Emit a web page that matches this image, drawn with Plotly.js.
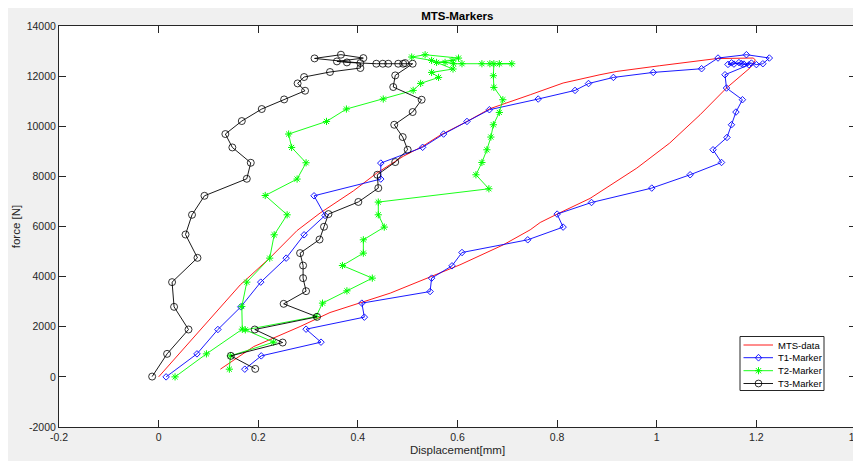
<!DOCTYPE html>
<html>
<head>
<meta charset="utf-8">
<script src="https://cdn.plot.ly/plotly-3.0.1.min.js"></script>
<style>
  html, body { margin: 0; padding: 0; background: #ffffff; overflow: hidden; width: 853px; height: 461px; }
  #chart { position: absolute; left: 8px; top: 8px; width: 862px; height: 453px; }
</style>
</head>
<body>
<div id="chart"></div>
<script>
// ---- Data ----
// MTS-data: loading branch then unloading branch
const mtsX = [0, 0.164, 0.224, 0.278, 0.324, 0.364, 0.391, 0.438, 0.491, 0.530, 0.565, 0.620, 0.665, 0.746, 0.812, 0.886, 0.920, 1.006, 1.120, 1.194,
              1.198, 1.187, 1.140, 1.087, 1.026, 0.960, 0.900, 0.866, 0.800, 0.766, 0.746, 0.692, 0.605, 0.548, 0.465, 0.344, 0.284, 0.191, 0.124];
const mtsF = [0, 3673, 4760, 5840, 6535, 7066, 7420, 8131, 8800, 9200, 9640, 10200, 10700, 11257, 11725, 12056, 12188, 12415, 12700, 12722,
              12640, 12323, 11525, 10459, 9329, 8331, 7560, 7120, 6495, 6160, 5868, 5269, 4471, 4004, 3341, 2567, 2008, 1210, 307];

const t1X = [0.015, 0.077, 0.119, 0.165, 0.205, 0.256, 0.292, 0.334, 0.312, 0.446, 0.446, 0.530, 0.572, 0.619, 0.664, 0.762, 0.836, 0.863, 0.913, 0.993,
             1.090, 1.123, 1.180, 1.226, 1.213, 1.200, 1.190, 1.175, 1.165, 1.155, 1.143, 1.150, 1.170, 1.185,
             1.137, 1.140, 1.172, 1.159, 1.150, 1.141, 1.113, 1.130, 1.067, 0.990, 0.869, 0.800, 0.812, 0.741, 0.609, 0.589, 0.548, 0.545,
             0.408, 0.413, 0.296, 0.326, 0.206, 0.173];
const t1F = [0, 918, 1890, 2794, 3780, 4738, 5669, 6440, 7225, 7893, 8530, 9160, 9689, 10192, 10659, 11086, 11430, 11705, 11948, 12148,
             12295, 12722, 12855, 12722, 12495, 12460, 12520, 12480, 12540, 12480, 12467, 12530, 12500, 12450,
             12056, 11525, 11058, 10567, 10060, 9553, 9062, 8555, 8064, 7533, 6958, 6495, 5976, 5469, 4962, 4431, 3940, 3405,
             2942, 2383, 1903, 1385, 838, 307];

const t2X = [0.033, 0.096, 0.168, 0.167, 0.177, 0.223, 0.232, 0.258, 0.214, 0.278, 0.296, 0.267, 0.261, 0.337, 0.377, 0.451, 0.511, 0.526,
             0.562, 0.548, 0.591, 0.548, 0.508, 0.535, 0.602, 0.589, 0.558, 0.575, 0.592, 0.609, 0.649, 0.665, 0.709, 0.684, 0.673,
             0.672, 0.673, 0.691, 0.684, 0.672, 0.667, 0.659, 0.649, 0.637, 0.663,
             0.441, 0.441, 0.453, 0.411, 0.411, 0.369, 0.429, 0.378, 0.329, 0.316, 0.174, 0.231, 0.144, 0.142];
const t2F = [0, 918, 1903, 2806, 3780, 4738, 5669, 6467, 7237, 7893, 8543, 9154, 9689, 10192, 10687, 11086, 11430, 11709,
             11948, 12148, 12284, 12627, 12762, 12854, 12720, 12627, 12547, 12547, 12495, 12495, 12495, 12495, 12495, 12495, 12495,
             12016, 11549, 11058, 10551, 10060, 9569, 9062, 8555, 8064, 7505,
             6974, 6467, 5976, 5469, 4938, 4443, 3940, 3433, 2942, 2407, 1876, 1385, 838, 307];

const t3X = [-0.013, 0.017, 0.060, 0.031, 0.027, 0.078, 0.054, 0.067, 0.092, 0.177, 0.185, 0.148, 0.134, 0.167, 0.207, 0.252, 0.294, 0.279, 0.292, 0.344,
             0.405, 0.405, 0.313, 0.366, 0.411, 0.358, 0.378, 0.437, 0.450, 0.461, 0.481, 0.491, 0.495, 0.510,
             0.475, 0.471, 0.528, 0.510, 0.473, 0.490, 0.500, 0.475, 0.439, 0.441, 0.401, 0.341, 0.332, 0.323, 0.284, 0.290, 0.290, 0.296,
             0.251, 0.318, 0.193, 0.249, 0.145, 0.194];
const t3F = [12, 918, 1890, 2794, 3780, 4750, 5680, 6467, 7225, 7904, 8543, 9154, 9689, 10207, 10687, 11070, 11417, 11709, 11964, 12164,
             12323, 12520, 12707, 12855, 12720, 12587, 12547, 12495, 12495, 12495, 12495, 12495, 12520, 12495,
             12028, 11565, 11058, 10567, 10060, 9569, 9062, 8571, 8064, 7533, 6980, 6495, 5990, 5480, 4938, 4443, 3940, 3420,
             2914, 2395, 1890, 1370, 838, 319];

const seriesNames = ['MTS-data', 'T1-Marker', 'T2-Marker', 'T3-Marker'];
const xTickVals = [-0.2, 0, 0.2, 0.4, 0.6, 0.8, 1, 1.2, 1.4];
const xTickText = ['-0.2', '0', '0.2', '0.4', '0.6', '0.8', '1', '1.2', '1.4'];
const yTickVals = [-2000, 0, 2000, 4000, 6000, 8000, 10000, 12000, 14000];
const yTickText = ['-2000', '0', '2000', '4000', '6000', '8000', '10000', '12000', '14000'];

// ---- Styles ----
const RED = '#ff0000', BLUE = '#0000ff', GREEN = '#00ff00', BLACK = '#000000';
const FONT = 'Liberation Sans, Arial, Helvetica, sans-serif';
const AX = '#262626';

const traces = [
  { x: mtsX, y: mtsF, name: seriesNames[0], type: 'scatter', mode: 'lines',
    line: { color: RED, width: 0.9 } },
  { x: t1X, y: t1F, name: seriesNames[1], type: 'scatter', mode: 'lines+markers',
    line: { color: BLUE, width: 0.9 },
    marker: { symbol: 'diamond-open', size: 5, color: BLUE, line: { color: BLUE, width: 0.9 } } },
  { x: t2X, y: t2F, name: seriesNames[2], type: 'scatter', mode: 'lines+markers',
    line: { color: GREEN, width: 0.9 },
    marker: { symbol: 'asterisk-open', size: 6, color: GREEN, line: { color: GREEN, width: 1 } } },
  { x: t3X, y: t3F, name: seriesNames[3], type: 'scatter', mode: 'lines+markers',
    line: { color: BLACK, width: 0.9 },
    marker: { symbol: 'circle-open', size: 7, color: BLACK, line: { color: BLACK, width: 0.8 } } }
];

// plot-area geometry in page pixels (for the hand-built legend box)
const PL = 59, PR = 856, PT = 26, PB = 427;
const PX = p => (p - PL) / (PR - PL);
const PY = p => (PB - p) / (PB - PT);

const shapes = [];
const annotations = [];
// legend box
shapes.push({ type: 'rect', xref: 'paper', yref: 'paper',
  x0: PX(740), x1: PX(824), y0: PY(390.5), y1: PY(336.5),
  fillcolor: '#ffffff', line: { color: AX, width: 1 } });
const rowsY = [345, 357.7, 370.7, 383.5];
const colors = [RED, BLUE, GREEN, BLACK];
rowsY.forEach((ry, i) => {
  shapes.push({ type: 'line', xref: 'paper', yref: 'paper',
    x0: PX(743.5), x1: PX(773), y0: PY(ry), y1: PY(ry), line: { color: colors[i], width: 0.9 } });
  annotations.push({ xref: 'paper', yref: 'paper', x: PX(775.5), y: PY(ry),
    xanchor: 'left', yanchor: 'middle', showarrow: false, text: seriesNames[i],
    font: { family: FONT, size: 9.5, color: '#000000' } });
});
const cx = 758.5;
// diamond sample
(function () {
  const y = rowsY[1], a = 3.2, b = 3.4;
  shapes.push({ type: 'path', xref: 'paper', yref: 'paper',
    path: `M${PX(cx)},${PY(y - b)} L${PX(cx + a)},${PY(y)} L${PX(cx)},${PY(y + b)} L${PX(cx - a)},${PY(y)} Z`,
    line: { color: BLUE, width: 0.9 }, fillcolor: 'rgba(0,0,0,0)' });
})();
// asterisk sample
(function () {
  const y = rowsY[2], r = 3.6, d = 2.6;
  shapes.push({ type: 'path', xref: 'paper', yref: 'paper',
    path: `M${PX(cx)},${PY(y - r)} L${PX(cx)},${PY(y + r)} M${PX(cx - r)},${PY(y)} L${PX(cx + r)},${PY(y)} ` +
          `M${PX(cx - d)},${PY(y - d)} L${PX(cx + d)},${PY(y + d)} M${PX(cx - d)},${PY(y + d)} L${PX(cx + d)},${PY(y - d)}`,
    line: { color: GREEN, width: 1 } });
})();
// circle sample
(function () {
  const y = rowsY[3], r = 3.4;
  shapes.push({ type: 'circle', xref: 'paper', yref: 'paper',
    x0: PX(cx - r), x1: PX(cx + r), y0: PY(y + r), y1: PY(y - r),
    line: { color: BLACK, width: 0.8 }, fillcolor: 'rgba(0,0,0,0)' });
})();

const layout = {
  width: 862, height: 453,
  margin: { l: 51, r: 14, t: 18, b: 34, pad: 0 },
  paper_bgcolor: '#f0f0f0',
  plot_bgcolor: '#ffffff',
  showlegend: false,
  font: { family: FONT, color: AX },
  title: { text: 'MTS-Markers', font: { family: FONT, size: 11.5, color: '#000000', weight: 'bold' },
           x: (457.3 - 8) / 862, xanchor: 'center', xref: 'container',
           y: 1 - 7.5 / 453, yanchor: 'middle', yref: 'container' },
  xaxis: {
    range: [-0.2, 1.4], tickvals: xTickVals, ticktext: xTickText,
    ticks: 'inside', ticklen: 7, tickwidth: 1, tickcolor: AX,
    showline: true, linecolor: AX, linewidth: 1, mirror: 'ticks',
    showgrid: false, zeroline: false, automargin: false,
    tickfont: { family: FONT, size: 10.5, color: AX },
    title: { text: 'Displacement[mm]', font: { family: FONT, size: 11.5, color: AX }, standoff: 4 }
  },
  yaxis: {
    range: [-2000, 14000], tickvals: yTickVals, ticktext: yTickText,
    ticks: 'inside', ticklen: 7, tickwidth: 1, tickcolor: AX,
    showline: true, linecolor: AX, linewidth: 1, mirror: 'ticks',
    showgrid: false, zeroline: false, automargin: false,
    tickfont: { family: FONT, size: 10.5, color: AX },
    title: { text: 'force [N]', font: { family: FONT, size: 11.5, color: AX }, standoff: 3 }
  },
  shapes: shapes,
  annotations: annotations
};

Plotly.newPlot('chart', traces, layout, { displayModeBar: false, staticPlot: true });
</script>
</body>
</html>
